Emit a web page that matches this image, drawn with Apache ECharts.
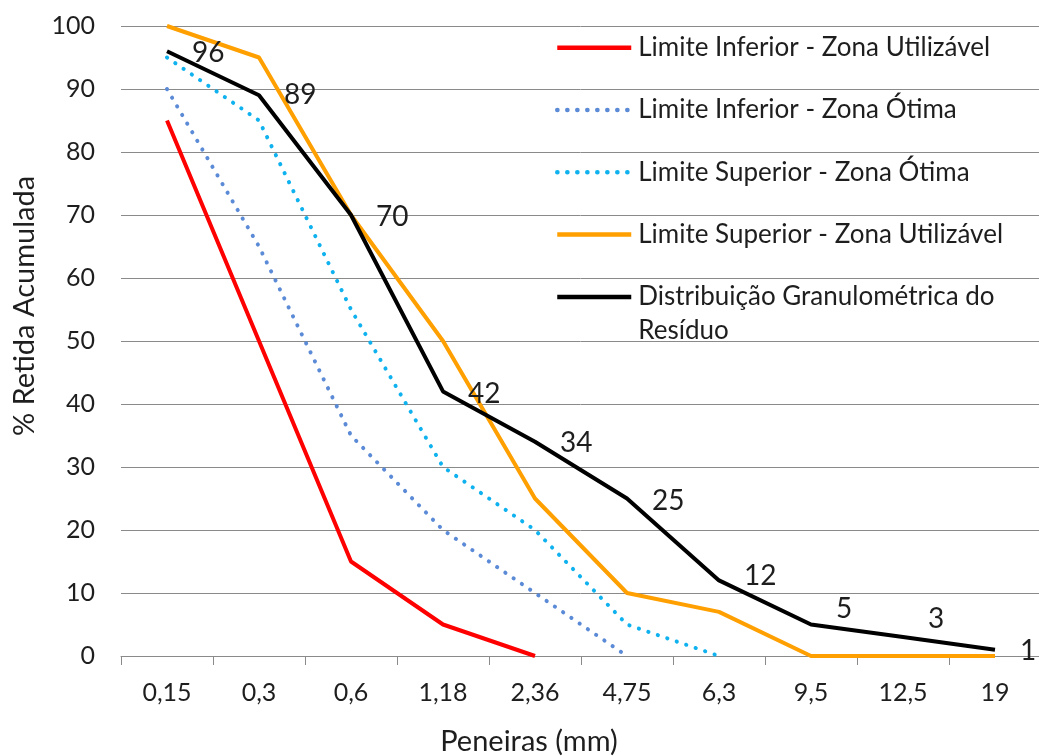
<!DOCTYPE html>
<html>
<head>
<meta charset="utf-8">
<style>
  html, body { margin: 0; padding: 0; background: #ffffff; }
  #chart { width: 1039px; height: 756px; }
</style>
<script src="https://cdn.jsdelivr.net/npm/echarts@6/dist/echarts.min.js"></script>
</head>
<body>
<div id="chart"></div>
<script>
// Sieve openings (mm)
const peneiras = ['0,15', '0,3', '0,6', '1,18', '2,36', '4,75', '6,3', '9,5', '12,5', '19'];

// Cumulative retained (%) per sieve; null where a limit curve is not drawn
const limInfUtilizavel = [85, 50, 15, 5, 0, null, null, null, null, null];
const limInfOtima      = [90, 65, 35, 20, 10, 0, null, null, null, null];
const limSupOtima      = [95, 85, 55, 30, 20, 5, 0, null, null, null];
const limSupUtilizavel = [100, 95, 70, 50, 25, 10, 7, 0, 0, 0];
const residuo          = [96, 89, 70, 42, 34, 25, 12, 5, 3, 1];

const seriesNames = [
  'Limite Inferior - Zona Utilizável',
  'Limite Inferior - Zona Ótima',
  'Limite Superior - Zona Ótima',
  'Limite Superior - Zona Utilizável',
  'Distribuição Granulométrica do Resíduo'
];

// vertical nudge (px) of the residue value labels, to keep them clear of the line
const labelNudge = [2, 0, 2, 3, 1, 2, -4, -16, -18, 1];

const FONT = 'Lato, "Open Sans", sans-serif';
const GRID_GRAY = '#8a8a8a';
const TEXT = '#1e1e1e';
const LEGEND_LH = 34;

// round dots: near-zero dash with round caps, 10 px apart
const dotted = [0.2, 9.8];

const chart = echarts.init(document.getElementById('chart'), null, { renderer: 'canvas' });

const residuoData = residuo.map((v, i) => ({
  value: v,
  label: { offset: [0, labelNudge[i]] }
}));

// shared legend look; the residue entry gets its own legend so its
// icon lines up with the first of its two text lines
const legendBase = {
  orient: 'vertical',
  left: 555,
  padding: 0,
  itemWidth: 74,
  itemHeight: 14,
  itemGap: 62.3 - LEGEND_LH,
  selectedMode: false,
  itemStyle: { opacity: 0 },
  lineStyle: { width: 4.5 },
  textStyle: {
    fontFamily: FONT, fontSize: 26, color: TEXT, lineHeight: LEGEND_LH,
    padding: [0, 0, 0, 2]
  }
};

chart.setOption({
  backgroundColor: '#ffffff',
  animation: false,
  textStyle: { fontFamily: FONT },
  grid: {
    left: 121, right: -2, top: 26, bottom: 100,
    containLabel: false, outerBoundsMode: 'none'
  },
  legend: [
    Object.assign({}, legendBase, {
      top: 47.7 - LEGEND_LH / 2,
      data: seriesNames.slice(0, 4)
    }),
    Object.assign({}, legendBase, {
      top: 297 - LEGEND_LH * 1.5,
      data: [seriesNames[4]],
      formatter: function () {
        return ' \nDistribuição Granulométrica do\nResíduo';
      }
    })
  ],
  xAxis: {
    type: 'category',
    data: peneiras,
    boundaryGap: true,
    name: 'Peneiras (mm)',
    nameLocation: 'middle',
    nameGap: 71,
    nameTextStyle: { fontFamily: FONT, fontSize: 29, color: TEXT, padding: [0, 104, 0, 0] },
    axisLine: { show: true, lineStyle: { color: GRID_GRAY, width: 1 } },
    axisTick: { show: true, alignWithLabel: false, length: 9, lineStyle: { color: GRID_GRAY } },
    axisLabel: { fontFamily: FONT, fontSize: 25, color: TEXT, margin: 24 },
    splitLine: { show: false }
  },
  yAxis: {
    type: 'value',
    min: 0,
    max: 100,
    interval: 10,
    name: '% Retida Acumulada',
    nameLocation: 'middle',
    nameGap: 82,
    nameTextStyle: { fontFamily: FONT, fontSize: 29, color: TEXT, padding: [0, 0, 0, 70] },
    axisLine: { show: false },
    axisTick: { show: false },
    axisLabel: { fontFamily: FONT, fontSize: 25, color: TEXT, margin: 26 },
    splitLine: { show: true, lineStyle: { color: GRID_GRAY, width: 1 } }
  },
  series: [
    {
      name: seriesNames[0], type: 'line', data: limInfUtilizavel,
      symbol: 'none',
      lineStyle: { color: '#ff0000', width: 4 }, itemStyle: { color: '#ff0000' }
    },
    {
      name: seriesNames[1], type: 'line', data: limInfOtima,
      symbol: 'none',
      lineStyle: { color: '#5b8ad6', width: 4, type: dotted, cap: 'round' }, itemStyle: { color: '#5b8ad6' }
    },
    {
      name: seriesNames[2], type: 'line', data: limSupOtima,
      symbol: 'none',
      lineStyle: { color: '#0fb2ee', width: 4, type: dotted, cap: 'round' }, itemStyle: { color: '#0fb2ee' }
    },
    {
      name: seriesNames[3], type: 'line', data: limSupUtilizavel,
      symbol: 'none',
      lineStyle: { color: '#ff9f00', width: 4 }, itemStyle: { color: '#ff9f00' }
    },
    {
      name: seriesNames[4], type: 'line', data: residuoData,
      symbol: 'circle', symbolSize: 2,
      lineStyle: { color: '#000000', width: 4 },
      itemStyle: { color: 'rgba(0,0,0,0)' },
      label: {
        show: true, position: 'right', distance: 24,
        fontFamily: FONT, fontSize: 28, color: TEXT
      }
    }
  ]
});
</script>
</body>
</html>
